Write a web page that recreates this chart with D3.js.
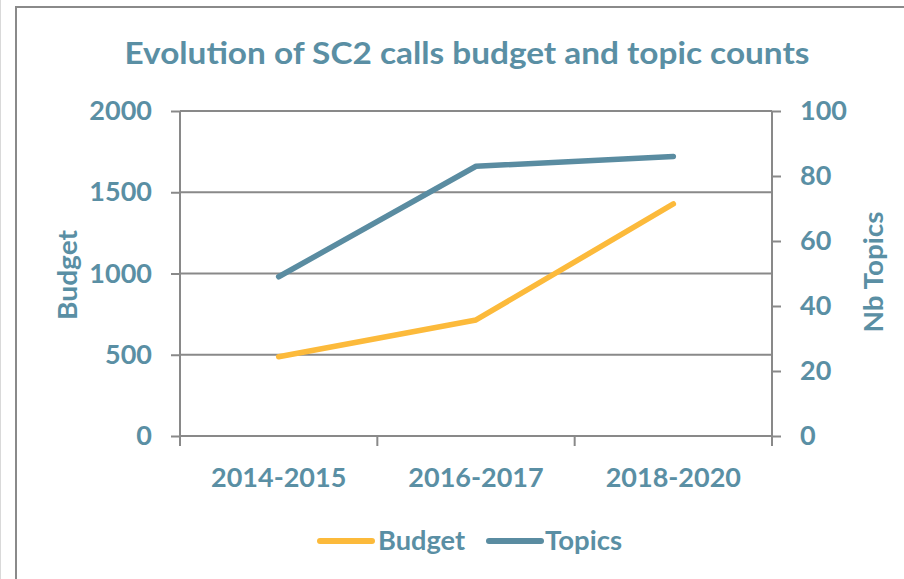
<!DOCTYPE html>
<html>
<head>
<meta charset="utf-8">
<script src="https://cdn.jsdelivr.net/npm/d3@7"></script>
<style>
  html, body { margin: 0; padding: 0; background: #fff; }
  svg text { font-family: Lato, Carlito, Calibri, "Open Sans", sans-serif; font-weight: bold; }
</style>
</head>
<body>
<svg id="chart" width="904" height="579"></svg>
<script>
// ---- data ----
const categories = ["2014-2015", "2016-2017", "2018-2020"];
const budgetValues = [488, 714, 1428];
const topicValues = [49, 83, 86];
const leftTicks = [0, 500, 1000, 1500, 2000];
const rightTicks = [0, 20, 40, 60, 80, 100];
const titleText = "Evolution of SC2 calls budget and topic counts";
const leftAxisTitle = "Budget";
const rightAxisTitle = "Nb Topics";
const legendItems = ["Budget", "Topics"];

// ---- styles ----
const textColor = "#5A8FA4";
const axisColor = "#898989";
const budgetColor = "#FCBA3B";
const topicColor = "#5A8CA1";

const svg = d3.select("#chart");
svg.append("rect").attr("width", 904).attr("height", 579).attr("fill", "#fff");

// outer frame
svg.append("line").attr("x1", 0.5).attr("x2", 0.5).attr("y1", 0).attr("y2", 579)
  .attr("stroke", "#d9d9d9").attr("stroke-width", 1);
svg.append("rect").attr("x", 16).attr("y", 7).attr("width", 1000).attr("height", 700)
  .attr("fill", "#fff").attr("stroke", "#8a8a8a").attr("stroke-width", 2);

const plotL = 180, plotR = 772, plotT = 111, plotB = 436;

const x = d3.scaleBand().domain(categories).range([plotL, plotR]).padding(0);
const yL = d3.scaleLinear().domain([0, 2000]).range([plotB, plotT]);
const yR = d3.scaleLinear().domain([0, 100]).range([plotB, plotT]);
const fmt = d3.format("d");

// gridlines
svg.append("g").selectAll("line").data(leftTicks).join("line")
  .attr("x1", plotL).attr("x2", plotR)
  .attr("y1", d => yL(d)).attr("y2", d => yL(d))
  .attr("stroke", axisColor).attr("stroke-width", 2);

// left axis
const gL = svg.append("g").attr("transform", `translate(${plotL},0)`)
  .call(d3.axisLeft(yL).tickValues(leftTicks).tickFormat(fmt).tickSize(9).tickPadding(19));
gL.select(".domain").remove();
gL.selectAll(".tick line").attr("stroke", axisColor).attr("stroke-width", 2);
gL.selectAll(".tick text").attr("fill", textColor).style("font-size", "27px")
  .style("font-family", "Lato, sans-serif").style("font-weight", "bold");
svg.append("line").attr("x1", plotL).attr("x2", plotL).attr("y1", plotT).attr("y2", plotB + 10)
  .attr("stroke", axisColor).attr("stroke-width", 2);

// right axis
const gR = svg.append("g").attr("transform", `translate(${plotR},0)`)
  .call(d3.axisRight(yR).tickValues(rightTicks).tickFormat(fmt).tickSize(9).tickPadding(19));
gR.select(".domain").remove();
gR.selectAll(".tick line").attr("stroke", axisColor).attr("stroke-width", 2);
gR.selectAll(".tick text").attr("fill", textColor).style("font-size", "27px")
  .style("font-family", "Lato, sans-serif").style("font-weight", "bold");
svg.append("line").attr("x1", plotR).attr("x2", plotR).attr("y1", plotT).attr("y2", plotB + 10)
  .attr("stroke", axisColor).attr("stroke-width", 2);

// bottom axis (labels) + boundary ticks
const gB = svg.append("g").attr("transform", `translate(0,${plotB})`)
  .call(d3.axisBottom(x).tickSize(0).tickPadding(32));
gB.select(".domain").remove();
gB.selectAll(".tick text").attr("fill", textColor).style("font-size", "27px")
  .style("font-family", "Lato, sans-serif").style("font-weight", "bold");
const boundaries = categories.map(c => x(c)).concat([x(categories[categories.length - 1]) + x.bandwidth()]);
svg.append("g").selectAll("line").data(boundaries).join("line")
  .attr("x1", d => d).attr("x2", d => d).attr("y1", plotB).attr("y2", plotB + 10)
  .attr("stroke", axisColor).attr("stroke-width", 2);

// series lines
const cx = c => x(c) + x.bandwidth() / 2;
const budgetLine = d3.line().x((d, i) => cx(categories[i])).y(d => yL(d));
const topicLine = d3.line().x((d, i) => cx(categories[i])).y(d => yR(d));

svg.append("path").datum(budgetValues).attr("d", budgetLine)
  .attr("fill", "none").attr("stroke", budgetColor).attr("stroke-width", 5.5)
  .attr("stroke-linecap", "round").attr("stroke-linejoin", "round");
svg.append("path").datum(topicValues).attr("d", topicLine)
  .attr("fill", "none").attr("stroke", topicColor).attr("stroke-width", 5.5)
  .attr("stroke-linecap", "round").attr("stroke-linejoin", "round");

// title
svg.append("text").attr("x", 467).attr("y", 64).attr("text-anchor", "middle")
  .attr("fill", textColor).style("font-size", "31px")
  .attr("textLength", 685).attr("lengthAdjust", "spacingAndGlyphs")
  .text(titleText);

// axis titles
svg.append("text").attr("transform", "translate(77,275) rotate(-90)")
  .attr("text-anchor", "middle").attr("fill", textColor).style("font-size", "27px")
  .attr("textLength", 90).attr("lengthAdjust", "spacingAndGlyphs")
  .text(leftAxisTitle);
svg.append("text").attr("transform", "translate(883,272) rotate(-90)")
  .attr("text-anchor", "middle").attr("fill", textColor).style("font-size", "27px")
  .attr("textLength", 121).attr("lengthAdjust", "spacingAndGlyphs")
  .text(rightAxisTitle);

// legend
const legendColors = [budgetColor, topicColor];
const legendLineX = [320, 489];
const legendTextX = [378, 545];
const legendTextW = [87, 77];
const lg = svg.append("g");
legendItems.forEach((name, i) => {
  lg.append("line").attr("x1", legendLineX[i]).attr("x2", legendLineX[i] + 52)
    .attr("y1", 541).attr("y2", 541)
    .attr("stroke", legendColors[i]).attr("stroke-width", 6).attr("stroke-linecap", "round");
  lg.append("text").attr("x", legendTextX[i]).attr("y", 550)
    .attr("fill", textColor).style("font-size", "27px")
    .attr("textLength", legendTextW[i]).attr("lengthAdjust", "spacingAndGlyphs")
    .text(name);
});
</script>
</body>
</html>
